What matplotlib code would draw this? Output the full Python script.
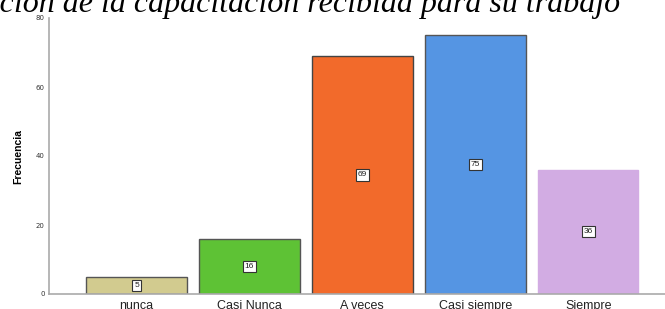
import matplotlib.pyplot as plt

categories = ["nunca", "Casi Nunca", "A veces", "Casi siempre", "Siempre"]
counts = [5, 16, 69, 75, 36]
colors = ["#d2cb8f", "#5ec235", "#f26a2b", "#5595e3", "#d2ace3"]
edges = ["#555555", "#555555", "#444444", "#555555", "#d2ace3"]
title = "Percepción de la capacitación recibida para su trabajo"

fig = plt.figure(figsize=(6.65, 3.09), dpi=100)
ax = fig.add_axes([49 / 665, 1 - 294 / 309, 1 - 49 / 665, (294 - 18) / 309])

x = list(range(len(categories)))
ax.bar(x, counts, width=0.89, color=colors, edgecolor=edges, linewidth=1.0, zorder=2)

for xi, v in zip(x, counts):
    ax.text(xi, v / 2, str(v), ha="center", va="center", fontsize=6,
            family="Liberation Sans", color="#222222", zorder=3,
            bbox=dict(boxstyle="square,pad=0.25", facecolor="white",
                      edgecolor="#333333", linewidth=0.8))

ax.set_xlim(-0.775, 4.68)
ax.set_ylim(0, 80)
ax.set_yticks([0, 20, 40, 60, 80])
ax.tick_params(axis="y", length=0, labelsize=5, labelcolor="#333333", pad=3)
ax.set_xticks(x)
ax.set_xticklabels(categories, family="Liberation Sans", fontsize=9, color="#222222")
ax.tick_params(axis="x", length=0, pad=4)

for s in ["top", "right"]:
    ax.spines[s].set_visible(False)
for s in ["left", "bottom"]:
    ax.spines[s].set_color("#aaaaaa")
    ax.spines[s].set_linewidth(1.2)

ax.set_ylabel("Frecuencia", fontsize=7.5, fontweight="bold", family="Liberation Sans", labelpad=9)

fig.text(620 / 665, 1 - 12 / 309, title, ha="right", va="baseline",
         fontsize=23, style="italic", family="Liberation Serif", color="black")

fig.savefig("out.png", dpi=100)
